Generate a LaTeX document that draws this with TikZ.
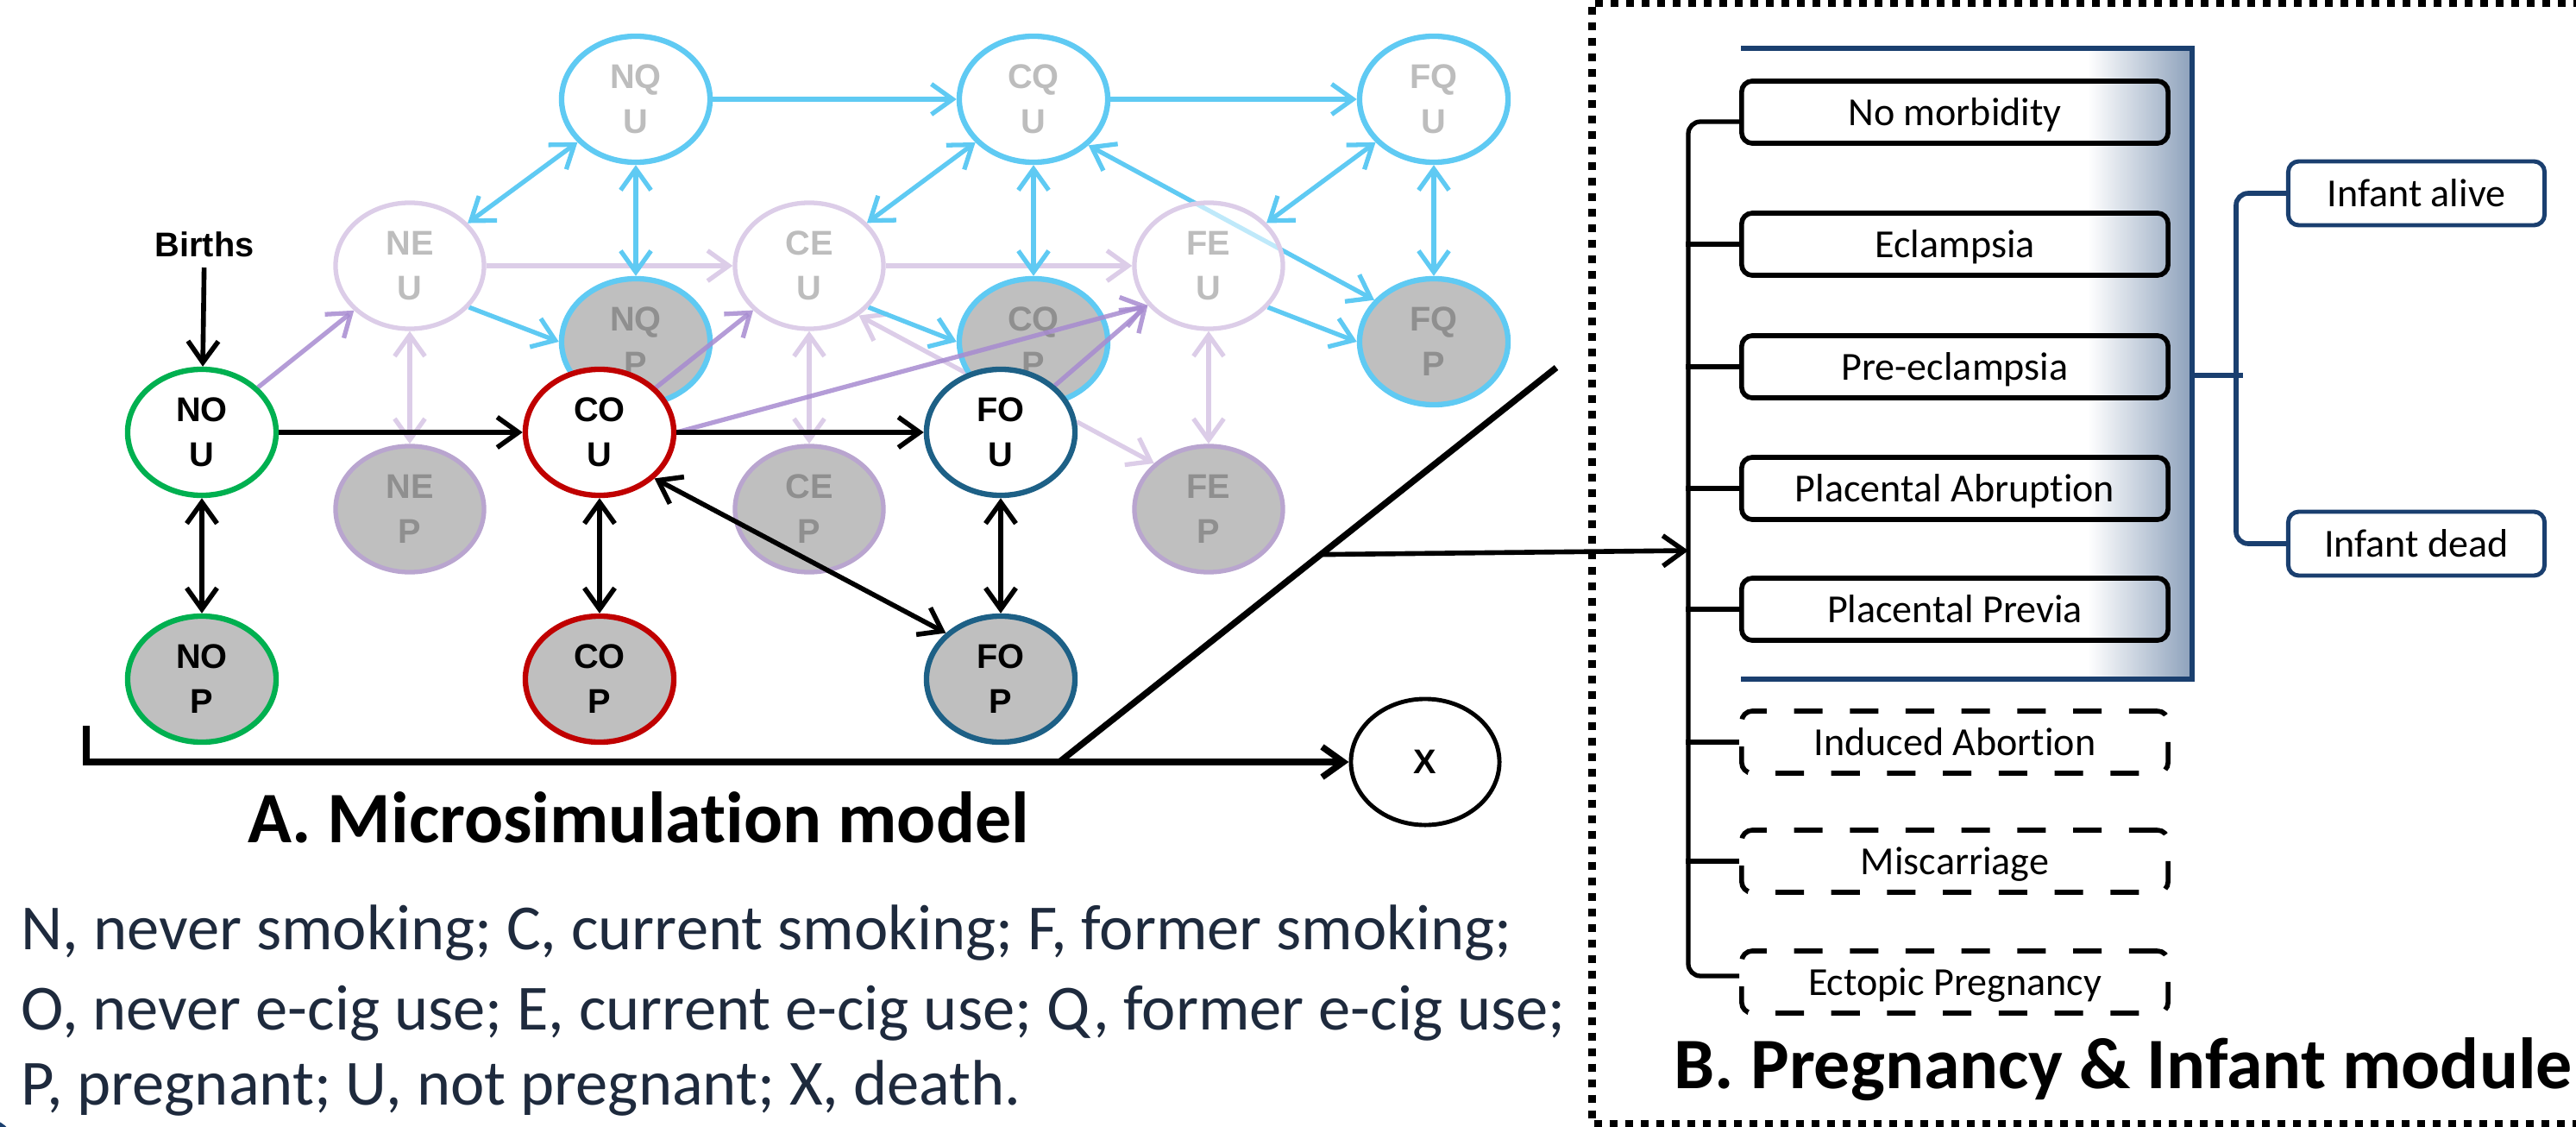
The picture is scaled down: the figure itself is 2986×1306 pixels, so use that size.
\documentclass[tikz,border=0pt]{standalone}
\usepackage{fontspec}
\setmainfont{Carlito}[Ligatures=NoCommon]
\newfontfamily\statefont{Liberation Sans}
\usepackage{tikz}
\usetikzlibrary{arrows.meta,calc,positioning,shapes.geometric}
\definecolor{sky}{HTML}{5FCAF3}
\definecolor{lav}{HTML}{DCCDE8}
\definecolor{lavdark}{HTML}{B9A5CF}
\definecolor{grape}{HTML}{A78BD0}
\definecolor{nevergreen}{HTML}{00B050}
\definecolor{currentred}{HTML}{C00000}
\definecolor{formerblue}{HTML}{1D6086}
\definecolor{stategray}{HTML}{BFBFBF}
\definecolor{fadetext}{HTML}{BDBDBD}
\definecolor{fadedark}{HTML}{8F8F8F}
\definecolor{navy}{HTML}{1A3F6F}
\definecolor{panelblue}{HTML}{8DA1BB}
\definecolor{legendink}{HTML}{1E2A3D}
\pgfdeclarelayer{faintedges}
\pgfdeclarelayer{faintnodes}
\pgfdeclarelayer{purpleedges}
\pgfsetlayers{faintedges,faintnodes,purpleedges,main}
\tikzset{
  >={Straight Barb[length=7pt,width=10pt]},
  statelabel/.style={font=\statefont\bfseries\fontsize{11.3}{14.8}\selectfont},
  state/.style={ellipse,minimum width=1.72cm,minimum height=1.46cm,inner sep=0pt,align=center,statelabel},
  ostate/.style={state,draw=#1,line width=1.8pt,fill=white},
  opreg/.style={state,draw=#1,line width=1.8pt,fill=stategray},
  estate/.style={state,draw=lav,line width=1.5pt,fill=white,fill opacity=.6,text opacity=1,text=fadetext},
  epreg/.style={state,draw=lavdark,line width=1.5pt,fill=stategray,text=fadedark},
  qstate/.style={state,draw=sky,line width=1.8pt,fill=white,fill opacity=.6,text opacity=1,text=fadetext},
  qpreg/.style={state,draw=sky,line width=1.8pt,fill=stategray,text=fadedark},
  mainflow/.style={line width=1.6pt},
  skyflow/.style={draw=sky,line width=1.5pt},
  lavflow/.style={draw=lav,line width=1.5pt},
  grapeflow/.style={->,draw=grape,draw opacity=.85,line width=1.5pt},
  exitline/.style={line width=2.1pt},
  outcome/.style={draw,rounded corners=3.5pt,line width=1.6pt,minimum width=4.94cm,minimum height=.72cm,
    inner sep=0pt,text height=.31cm,text depth=0pt,font=\fontsize{13.1}{15}\selectfont},
  maybe/.style={outcome,dash pattern=on 9.4pt off 9pt},
  infant/.style={outcome,draw=navy,line width=1.4pt,fill=white,minimum width=2.97cm,minimum height=.74cm},
  navyline/.style={draw=navy,line width=1.6pt},
  bracket/.style={line width=1.5pt},
  modframe/.style={line width=2.56pt,dash pattern=on 2.56pt off 2.56pt},
  paneltitle/.style={inner sep=0pt,font=\bfseries\fontsize{23.9}{28}\selectfont},
  legend/.style={inner sep=0pt,anchor=base west,text=legendink,font=\fontsize{21.2}{25.6}\selectfont}
}

\begin{document}
\begin{tikzpicture}[x=.01cm,y=-.01cm]
  \useasboundingbox (0,0) rectangle (2986,1306);
  \node[ostate=nevergreen] (noU) at (234,501) {NO\\U};
  \node[ostate=currentred] (coU) at (695,501) {CO\\U};
  \node[ostate=formerblue] (foU) at (1160,501) {FO\\U};
  \node[opreg=nevergreen] (noP) at (234,787) {NO\\P};
  \node[opreg=currentred] (coP) at (695,787) {CO\\P};
  \node[opreg=formerblue] (foP) at (1160,787) {FO\\P};
  \begin{pgfonlayer}{faintnodes}
    \node[estate] (neU) at (475,308) {NE\\U};
    \node[estate] (ceU) at (938,308) {CE\\U};
    \node[estate] (feU) at (1401,308) {FE\\U};
    \node[epreg] (neP) at (475,590) {NE\\P};
    \node[epreg] (ceP) at (938,590) {CE\\P};
    \node[epreg] (feP) at (1401,590) {FE\\P};
    \node[qstate] (nqU) at (737,115) {NQ\\U};
    \node[qstate] (cqU) at (1198,115) {CQ\\U};
    \node[qstate] (fqU) at (1662,115) {FQ\\U};
    \node[qpreg] (nqP) at (737,396) {NQ\\P};
    \node[qpreg] (cqP) at (1198,396) {CQ\\P};
    \node[qpreg] (fqP) at (1662,396) {FQ\\P};
  \end{pgfonlayer}
  \begin{pgfonlayer}{faintedges}
    \draw[lavflow,->] (neU) -- (ceU);
    \draw[lavflow,->] (ceU) -- (feU);
    \foreach \s in {ne,ce,fe} \draw[lavflow,<->] (\s U) -- (\s P);
    \draw[lavflow,->] (foU.8) -- (feP.140);
    \draw[lavflow,->] (foU.120) -- (ceU.-45);
    \draw[skyflow,->] (nqU) -- (cqU);
    \draw[skyflow,->] (cqU) -- (fqU);
    \foreach \s in {nq,cq,fq} \draw[skyflow,<->] (\s U) -- (\s P);
    \draw[skyflow,<->] (neU) -- (nqU);
    \draw[skyflow,<->] (ceU) -- (cqU);
    \draw[skyflow,<->] (feU) -- (fqU);
    \draw[skyflow,->] (neU.-35) -- (nqP.west);
    \draw[skyflow,->] (ceU.-35) -- (cqP.west);
    \draw[skyflow,->] (feU.-35) -- (fqP.west);
    \draw[skyflow,<->] (cqU.-40) -- (fqP.145);
  \end{pgfonlayer}
  \begin{pgfonlayer}{purpleedges}
    \draw[grapeflow] (noU) -- (neU);
    \draw[grapeflow] (coU) -- (ceU);
    \draw[grapeflow] (coU.east) -- (feU.213);
    \draw[grapeflow] (foU) -- (feU.213);
  \end{pgfonlayer}
  \node[statelabel] (births) at (237,283) {Births};
  \draw[mainflow,->] (births) -- (noU);
  \draw[mainflow,->] (noU) -- (coU);
  \draw[mainflow,->] (coU) -- (foU);
  \foreach \s in {no,co,fo} \draw[mainflow,<->] (\s U) -- (\s P);
  \draw[mainflow,<->] (coU.-40) -- (foP.140);
  \node[state,draw,line width=1.4pt,fill=white] (death) at (1652,883) {X};
  \coordinate (exitstart) at (100,841);
  \draw[exitline,->] (exitstart) |- (death);
  \coordinate (diagfoot) at (1228,883);
  \coordinate (diagtop) at (1804,426);
  \draw[exitline] (diagfoot) -- (diagtop);
  \coordinate (splitpt) at ($(diagfoot)!.526!(diagtop)$);
  \node[paneltitle,anchor=base] (titleA) at (740,976) {A. Microsimulation model};
  \node[legend] (legN) at (24,1100) {N, never smoking; C, current smoking; F, former smoking;};
  \node[legend] (legO) at (24,1193) {O, never e-cig use; E, current e-cig use; Q, former e-cig use;};
  \node[legend] (legP) at (24,1280) {P, pregnant; U, not pregnant; X, death.};
  \fill[navy] (-20,1335) circle (40);

  \shade[left color=white,right color=panelblue] (2420,56) rectangle (2541,787);
  \node[outcome] (b1) at (2266,130) {No morbidity};
  \node[outcome] (b2) at (2266,283) {Eclampsia};
  \node[outcome] (b3) at (2266,425) {Pre-eclampsia};
  \node[outcome] (b4) at (2266,566) {Placental Abruption};
  \node[outcome] (b5) at (2266,706) {Placental Previa};
  \node[maybe] (b6) at (2266,860) {Induced Abortion};
  \node[maybe] (b7) at (2266,998) {Miscarriage};
  \node[maybe] (b8) at (2266,1138) {Ectopic Pregnancy};
  \draw[navyline] (2018,56) -- (2541,56) -- (2541,787) -- (2018,787);
  \coordinate (panelout) at (2541,435);
  \coordinate (spine) at (1957,638);
  \draw[mainflow,->] (splitpt) -- (spine);
  \draw[bracket,rounded corners=4pt] ($(b1.west)+(0,11)$) -| (spine) |- ($(b8.west)+(0,-7)$);
  \foreach \b in {b2,b3,b4,b5,b6,b7} \draw[bracket] (\b.west) -- ++(-62,0);
  \node[infant] (alive) at (2801,224) {Infant alive};
  \node[infant] (dead) at (2801,630) {Infant dead};
  \draw[navyline,rounded corners=4pt] (alive.west) -- ++(-58,0) |- (dead.west);
  \draw[navyline] (panelout) -- ++(59,0);
  \draw[modframe] (3100,3) -| (1845,1302) -- (3100,1302);
  \node[paneltitle,anchor=base west] (titleB) at (1940,1261) {B. Pregnancy \& Infant module};
\end{tikzpicture}
\end{document}
